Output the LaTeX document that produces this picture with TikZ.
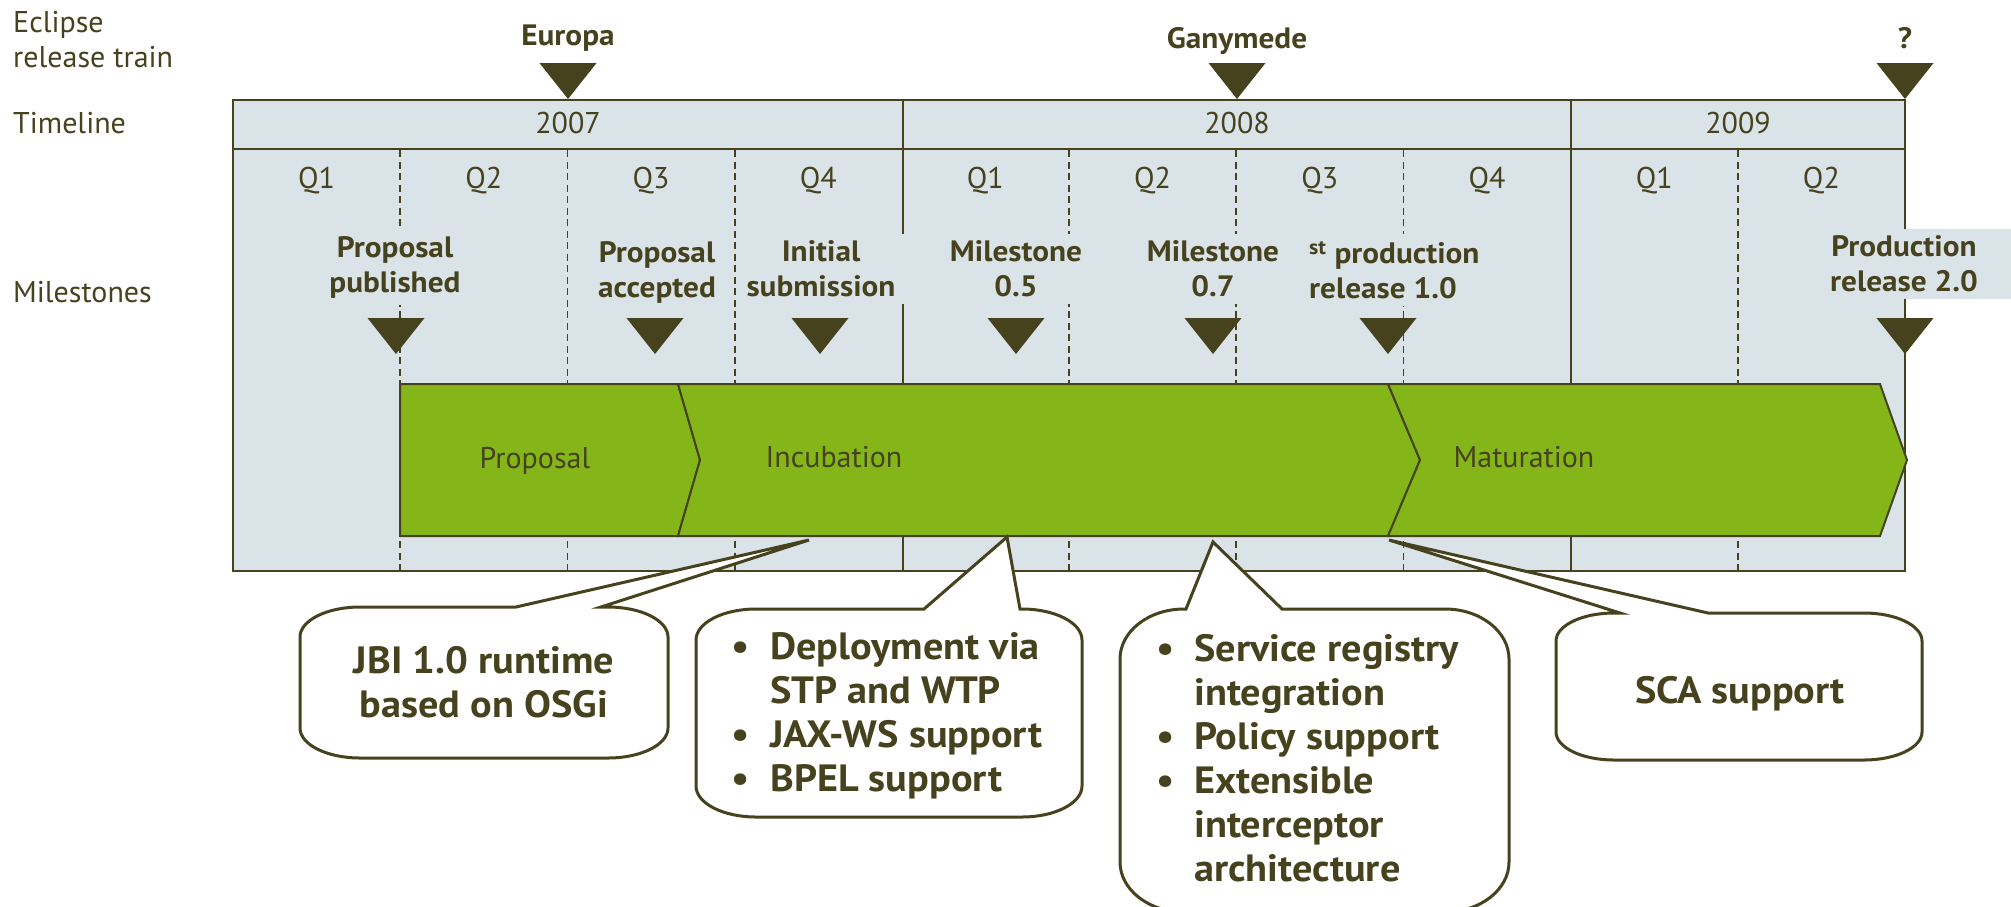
\documentclass[tikz,border=0pt]{standalone}
\usepackage{fontspec}
\setmainfont{PT Sans}[BoldFeatures={FakeStretch=1.06}]
\usetikzlibrary{calc}
\definecolor{ink}{HTML}{47421E}
\definecolor{boxfill}{HTML}{DAE3E8}
\definecolor{bandgreen}{HTML}{84B61A}
\begin{document}
\begin{tikzpicture}[x=1pt,y=-1pt,
  every node/.style={text=ink, inner sep=0pt},
  rowlbl/.style={font=\fontsize{30}{35}\selectfont, anchor=base west},
  tick/.style={font=\fontsize{30}{35}\selectfont, anchor=base},
  relname/.style={font=\fontsize{29.5}{35}\selectfont\bfseries, anchor=base},
  mslbl/.style={font=\fontsize{29.5}{35}\selectfont\bfseries, align=center, fill=boxfill, inner xsep=9pt, inner ysep=7pt},
  phase/.style={font=\fontsize{30}{35}\selectfont, anchor=base},
  calltext/.style={font=\fontsize{38}{44}\selectfont\bfseries},
  tri/.style={fill=ink},
  frame/.style={draw=ink, line width=2.5pt},
  qline/.style={draw=ink, line width=1.8pt, dash pattern=on 7pt off 4.5pt},
  seg/.style={fill=bandgreen, draw=ink, line width=2pt, line join=miter},
  callout/.style={fill=white, draw=ink, line width=3pt, line join=miter},
]
\useasboundingbox (0,0) rectangle (2011,906);
\fill[white] (0,0) rectangle (2011,906);
\clip (0,0) rectangle (2011,906);

% timeline box
\fill[boxfill] (233,100) rectangle (1905,571);
\foreach \k in {1,2,3,5,6,7,9}
  \draw[qline] ({233+167.2*\k},150) -- ({233+167.2*\k},571);
\draw[frame] (903,100) -- (903,571);
\draw[frame] (1571,100) -- (1571,571);
\draw[frame] (233,149) -- (1905,149);
\draw[frame] (233,100) rectangle (1905,571);

% row labels
\node[rowlbl] (eclipse) at (13,32) {Eclipse};
\node[rowlbl] (train) at (13,67) {release train};
\node[rowlbl] (timeline) at (13,133) {Timeline};
\node[rowlbl] (milestones) at (13,302) {Milestones};

% years and quarters
\node[tick] (y2007) at (568,133) {2007};
\node[tick] (y2008) at (1237,133) {2008};
\node[tick] (y2009) at (1738,133) {2009};
\foreach \k/\q in {0/Q1,1/Q2,2/Q3,3/Q4,4/Q1,5/Q2,6/Q3,7/Q4,8/Q1,9/Q2}
  \node[tick] (q\k) at ({233+167.2*(\k+0.5)},188) {\q};

% release train
\node[relname] (europa) at (568,45) {Europa};
\node[relname] (ganymede) at (1237,48) {Ganymede};
\node[relname] (unknown) at (1905,48) {?};
\foreach \x in {568,1237,1905}
  \fill[tri] ({\x-28.5},63) -- ({\x+28.5},63) -- (\x,99) -- cycle;

% milestone labels
\node[mslbl] (m1) at (395,267) {Proposal\\published};
\node[mslbl] (m2) at (657,272) {Proposal\\accepted};
\node[mslbl] (m3) at (821,269) {Initial\\submission};
\node[mslbl] (m4) at (1016,269) {Milestone\\0.5};
\node[mslbl] (m5) at (1213,269) {Milestone\\0.7};
\node[mslbl, align=left, anchor=west] (m6) at (1300,270) {\textsuperscript{st} production\\release 1.0};
\node[mslbl] (m7) at (1904,264) {Production\\release 2.0};
\fill[boxfill] (m7.north east) rectangle ($(m7.south east)+(150,0)$);
\foreach \x in {396,655,820,1016,1213,1388,1905}
  \fill[tri] ({\x-28.5},318) -- ({\x+28.5},318) -- (\x,354) -- cycle;

% phase band
\draw[seg] (400,384) -- (678,384) -- (700,460) -- (678,536) -- (400,536) -- cycle;
\draw[seg] (678,384) -- (1388,384) -- (1420,460) -- (1388,536) -- (678,536) -- (700,460) -- cycle;
\draw[seg] (1388,384) -- (1880,384) -- (1907,460) -- (1880,536) -- (1388,536) -- (1420,460) -- cycle;
\node[phase] (proposal) at (535,468) {Proposal};
\node[phase] (incubation) at (834,467) {Incubation};
\node[phase] (maturation) at (1524,467) {Maturation};

% callouts
\draw[callout] (516,607) -- (809,540) -- (601,607) -- (608,607)
  arc[start angle=90,end angle=0,x radius=60pt,y radius=30pt] -- (668,728)
  arc[start angle=0,end angle=-90,x radius=60pt,y radius=30pt] -- (360,758)
  arc[start angle=270,end angle=180,x radius=60pt,y radius=30pt] -- (300,637)
  arc[start angle=180,end angle=90,x radius=60pt,y radius=30pt] -- cycle;
\node[calltext, anchor=base] (c1) at (484,673)
  {\begin{tabular}[t]{@{}c@{}}JBI 1.0 runtime\\based on OSGi\end{tabular}};

\draw[callout] (924,609) -- (1007,537) -- (1020,609) -- (1022,609)
  arc[start angle=90,end angle=0,x radius=60pt,y radius=31pt] -- (1082,786)
  arc[start angle=0,end angle=-90,x radius=60pt,y radius=31pt] -- (756,817)
  arc[start angle=270,end angle=180,x radius=60pt,y radius=31pt] -- (696,640)
  arc[start angle=180,end angle=90,x radius=60pt,y radius=31pt] -- cycle;
\node[calltext, anchor=base west] (c2) at (731,659)
  {\begin{tabular}[t]{@{}l@{}l@{}}\makebox[39pt][l]{\textbullet}&Deployment via\\&STP and WTP\\\textbullet&JAX-WS support\\\textbullet&BPEL support\end{tabular}};

\draw[callout] (1186,609) -- (1213,542) -- (1282,609) -- (1445,609)
  arc[start angle=90,end angle=0,x radius=64pt,y radius=50pt] -- (1509,862)
  arc[start angle=0,end angle=-90,x radius=64pt,y radius=50pt] -- (1184,912)
  arc[start angle=270,end angle=180,x radius=64pt,y radius=50pt] -- (1120,659)
  arc[start angle=180,end angle=90,x radius=64pt,y radius=50pt] -- cycle;
\node[calltext, anchor=base west] (c3) at (1156,661)
  {\begin{tabular}[t]{@{}l@{}l@{}}\makebox[38pt][l]{\textbullet}&Service registry\\&integration\\\textbullet&Policy support\\\textbullet&Extensible\\&interceptor\\&architecture\end{tabular}};

\draw[callout] (1620,613) -- (1389,540) -- (1708,613) -- (1864,613)
  arc[start angle=90,end angle=0,x radius=58pt,y radius=28pt] -- (1922,732)
  arc[start angle=0,end angle=-90,x radius=58pt,y radius=28pt] -- (1614,760)
  arc[start angle=270,end angle=180,x radius=58pt,y radius=28pt] -- (1556,641)
  arc[start angle=180,end angle=90,x radius=58pt,y radius=28pt] -- cycle;
\node[calltext, anchor=base] (c4) at (1740,703) {SCA support};
\end{tikzpicture}
\end{document}
